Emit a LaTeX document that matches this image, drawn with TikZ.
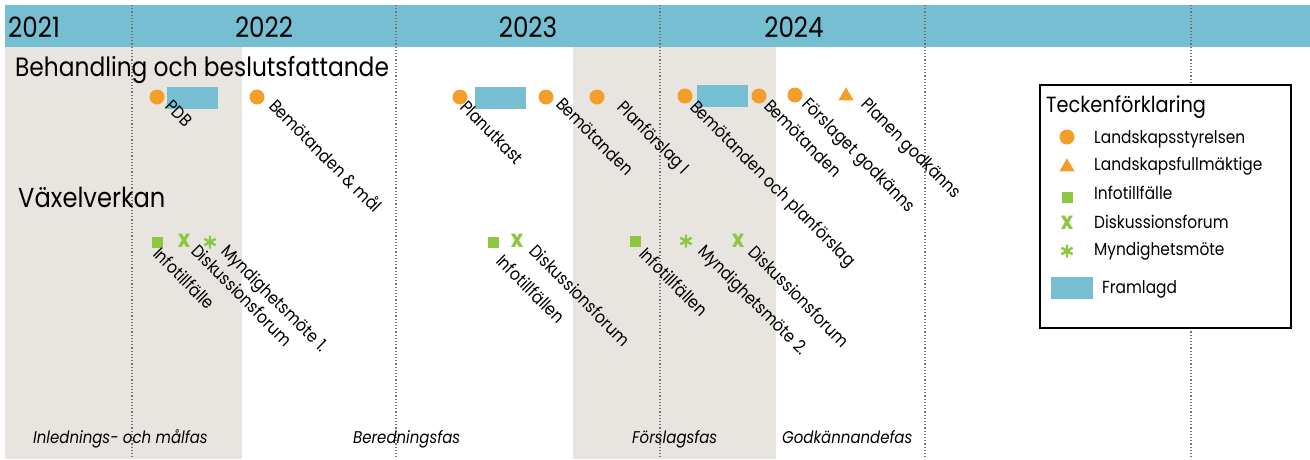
\documentclass[tikz,border=0pt]{standalone}
\usepackage{fontspec}
\setmainfont[FakeStretch=0.88]{Poppins}
\usetikzlibrary{positioning, shapes.geometric}

\definecolor{lsorange}{RGB}{244,158,42}
\definecolor{vvgreen}{RGB}{141,198,63}
\definecolor{hdrblue}{RGB}{118,190,210}
\definecolor{fasgray}{RGB}{232,229,225}

\tikzset{
  lbl/.style={rotate=-45, anchor=north west, inner sep=0pt, text height=0.7em, text depth=0pt, font=\fontsize{17.5}{18}\selectfont},
  ls/.style={circle, fill=lsorange, minimum size=15pt, inner sep=0pt},
  lf/.style={regular polygon, regular polygon sides=3, fill=lsorange, minimum size=17.5pt, inner sep=0pt},
  info/.style={rectangle, fill=vvgreen, minimum size=11pt, inner sep=0pt},
  disk/.style={text=vvgreen, inner sep=0pt, font=\fontsize{24}{24}\selectfont\bfseries},
  myn/.style={circle, minimum size=15pt, inner sep=0pt, path picture={
      \draw[vvgreen, line width=2.4pt]
        (path picture bounding box.center) ++(90:6.5pt) -- ++(270:13pt)
        (path picture bounding box.center) ++(30:6.5pt) -- ++(210:13pt)
        (path picture bounding box.center) ++(150:6.5pt) -- ++(330:13pt);}},
  fram/.style={rectangle, fill=hdrblue, minimum width=51pt, minimum height=22pt, inner sep=0pt},
  yr/.style={anchor=base, inner sep=0pt, font=\fontsize{28}{28}\selectfont},
  rubrik/.style={anchor=base west, inner sep=0pt, font=\fontsize{26.5}{27}\selectfont},
  leg/.style={anchor=base west, inner sep=0pt, font=\fontsize{17.5}{18}\selectfont},
  fas/.style={anchor=base west, inner sep=0pt, font=\fontsize{17}{17}\selectfont\itshape},
  tid/.style={black!55, line width=1.2pt, dash pattern=on 1.2pt off 2pt}
}

\begin{document}
\begin{tikzpicture}[x=1pt, y=-1pt]
  \useasboundingbox (0,0) rectangle (1310,459);
  \fill[fasgray] (5,47) rectangle (242,459);
  \fill[fasgray] (573,47) rectangle (776,459);
  \fill[hdrblue] (5,5) rectangle (1310,47);
  \draw[tid] (132,5) -- (132,459);
  \draw[tid] (396,5) -- (396,459);
  \draw[tid] (660,5) -- (660,459);
  \draw[tid] (925,5) -- (925,459);
  \draw[tid] (1191,5) -- (1191,459);

  \node[yr, anchor=base west] (y2021) at (8,37) {2021};
  \node[yr] (y2022) at (264,37) {2022};
  \node[yr] (y2023) at (528,37) {2023};
  \node[yr] (y2024) at (794,37) {2024};

  \node[rubrik] (beh) at (15,76) {Behandling och beslutsfattande};
  \node[rubrik, font=\fontsize{27.5}{28}\selectfont] (vxl) at (18,207) {Växelverkan};

  \node[ls] (pdb) at (157,97) {};
  \node[fram] (pdb_fr) at (192.5,98) {};
  \node[lbl, below right=5pt and 12pt of pdb.center] (pdb_txt) {PDB};
  \node[ls] (bem_1) at (257,97) {};
  \node[lbl, below right=5pt and 16pt of bem_1.center] (bem_1_txt) {Bemötanden \& mål};
  \node[ls] (utk) at (460,97) {};
  \node[fram] (utk_fr) at (500,98) {};
  \node[lbl, below right=6pt and 4pt of utk.center] (utk_txt) {Planutkast};
  \node[ls] (bem_2) at (546,97) {};
  \node[lbl, below right=3pt and 14pt of bem_2.center] (bem_2_txt) {Bemötanden};
  \node[ls] (forsl) at (597,97) {};
  \node[lbl, below right=6pt and 24pt of forsl.center] (forsl_txt) {Planförslag I};
  \node[ls] (bem_3) at (685,96) {};
  \node[fram] (bem_3_fr) at (722,96) {};
  \node[lbl, below right=7pt and 9pt of bem_3.center] (bem_3_txt) {Bemötanden och planförslag};
  \node[ls] (bem_4) at (759,96) {};
  \node[lbl, below right=6pt and 9pt of bem_4.center] (bem_4_txt) {Bemötanden};
  \node[ls] (godk) at (795,95) {};
  \node[lbl, below right=5pt and 11pt of godk.center] (godk_txt) {Förslaget godkänns};
  \node[lf] (plan_ok) at (846,96) {};
  \node[lbl, below right=4pt and 19pt of plan_ok.center] (plan_ok_txt) {Planen godkänns};

  \node[info] (inf_1) at (157,242) {};
  \node[lbl, below right=8pt and 0pt of inf_1.center] (inf_1_txt) {Infotillfälle};
  \node[disk] (disk_1) at (184,241) {x};
  \node[lbl, below right=6pt and 11pt of disk_1.center] (disk_1_txt) {Diskussionsforum};
  \node[myn] (myn_1) at (210,242) {};
  \node[lbl, below right=5pt and 15pt of myn_1.center] (myn_1_txt) {Myndighetsmöte 1.};
  \node[info] (inf_2) at (493,242) {};
  \node[lbl, below right=15pt and 7pt of inf_2.center] (inf_2_txt) {Infotillfällen};
  \node[disk] (disk_2) at (517,241) {x};
  \node[lbl, below right=6pt and 16pt of disk_2.center] (disk_2_txt) {Diskussionsforum};
  \node[info] (inf_3) at (635,241) {};
  \node[lbl, below right=9pt and 8pt of inf_3.center] (inf_3_txt) {Infotillfällen};
  \node[myn] (myn_2) at (686,241) {};
  \node[lbl, below right=6pt and 16pt of myn_2.center] (myn_2_txt) {Myndighetsmöte 2.};
  \node[disk] (disk_3) at (738,241) {x};
  \node[lbl, below right=7pt and 14pt of disk_3.center] (disk_3_txt) {Diskussionsforum};

  \draw[line width=2pt, fill=white] (1040,85) rectangle (1291,328);
  \node[leg, font=\fontsize{22}{22}\selectfont] (leg_title) at (1046,112) {Teckenförklaring};
  \node[ls] (leg_ls) at (1067,137) {};
  \node[leg] (leg_ls_txt) at (1094,143) {Landskapsstyrelsen};
  \node[lf] (leg_lf) at (1067,167) {};
  \node[leg] (leg_lf_txt) at (1094,170) {Landskapsfullmäktige};
  \node[info] (leg_inf) at (1067,197) {};
  \node[leg] (leg_inf_txt) at (1094,199) {Infotillfälle};
  \node[disk] (leg_disk) at (1067,223) {x};
  \node[leg] (leg_disk_txt) at (1094,228) {Diskussionsforum};
  \node[myn] (leg_myn) at (1067,251) {};
  \node[leg] (leg_myn_txt) at (1094,255) {Myndighetsmöte};
  \node[fram, minimum width=42pt] (leg_fr) at (1072,288) {};
  \node[leg] (leg_fr_txt) at (1102,293) {Framlagd};

  \node[fas] (fas_1) at (33,443) {Inlednings- och målfas};
  \node[fas] (fas_2) at (353,443) {Beredningsfas};
  \node[fas] (fas_3) at (632,443) {Förslagsfas};
  \node[fas] (fas_4) at (782,443) {Godkännandefas};
\end{tikzpicture}
\end{document}
